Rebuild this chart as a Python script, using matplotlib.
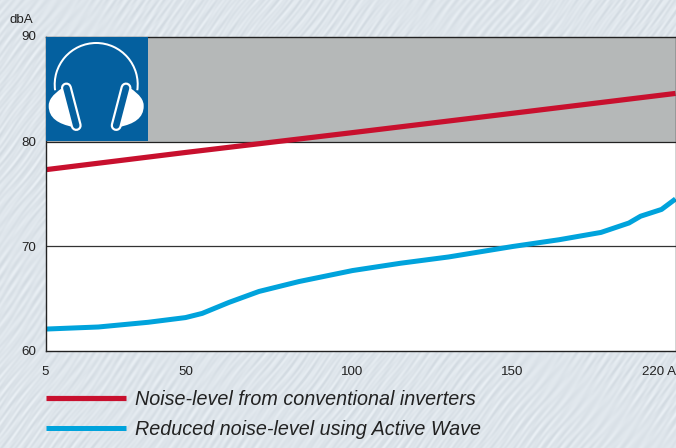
import numpy as np
import matplotlib
matplotlib.use("Agg")
import matplotlib.pyplot as plt
from matplotlib.patches import Arc, PathPatch
from matplotlib.path import Path

plt.rcParams['font.family'] = ['Liberation Sans', 'DejaVu Sans']

# Current (A) against noise level (dBA)
conventional_amps = [5, 50, 100, 150, 220]
conventional_dba = [77.3, 78.95, 80.85, 82.7, 84.6]
active_amps = [5, 22, 38, 50, 55, 63, 72, 84, 100, 115, 130, 150, 170, 188,
               200, 205, 214, 220]
active_dba = [62.05, 62.25, 62.7, 63.15, 63.55, 64.6, 65.65, 66.6, 67.65,
              68.35, 68.95, 69.95, 70.6, 71.3, 72.2, 72.85, 73.5, 74.5]
x_ticks = [5, 50, 100, 150, 220]
x_labels = ['5', '50', '100', '150', '220 A']
y_ticks = [60, 70, 80, 90]
series_names = ['Noise-level from conventional inverters',
                'Reduced noise-level using Active Wave']

W, H = 676, 448
fig = plt.figure(figsize=(W / 100, H / 100), dpi=100)


def px(v):
    return v * 0.72


# Brushed paper backdrop: diagonal streaks built from layered sine waves
yy, xx = np.mgrid[0:H, 0:W]
u = xx * 0.80 + yy * 0.60
v = -xx * 0.60 + yy * 0.80
streaks = (np.sin(u * 1.05 + 2.2 * np.sin(v * 0.043)) * np.sin(v * 0.031 + 1.0)
           + 0.7 * np.sin(u * 0.63 + 3.0 * np.sin(v * 0.019 + 2.0)) * np.sin(v * 0.067)
           + 0.5 * np.sin(u * 1.71 + 1.5 * np.sin(v * 0.087 + 0.5)) * np.sin(v * 0.013 + 0.4))
streaks = np.clip(streaks / 1.6, -1, 1)
base = np.array([222, 229, 235], dtype=float)
paper = base[None, None, :] + streaks[..., None] * np.array([11, 10, 9])
bg = fig.add_axes([0, 0, 1, 1], zorder=0)
bg.imshow(paper.astype(np.uint8), aspect='auto', interpolation='bilinear')
bg.set_axis_off()

# Main plot
left, right, top, bottom = 45.5, 675.5, 37.0, 350.5
ax = fig.add_axes([left / W, 1 - bottom / H, (right - left) / W, (bottom - top) / H],
                  zorder=1)
tick_fracs = [0.0, 0.2222, 0.4873, 0.7413, 1.0]
ax.set_xscale('function', functions=(lambda a: np.interp(a, x_ticks, tick_fracs),
                                     lambda f: np.interp(f, tick_fracs, x_ticks)))
ax.set_xlim(5, 220)
ax.set_ylim(60, 90)
ax.set_facecolor('white')
ax.axhspan(80, 90, color='#b5b8b8', lw=0, zorder=1)
ax.axhline(80, color='#222222', lw=0.9, zorder=2)
ax.axhline(70, color='#333333', lw=0.9, zorder=2)
ax.plot(conventional_amps, conventional_dba, color='#c8102e', lw=px(5.2),
        zorder=3, label=series_names[0], solid_capstyle='butt')
ax.plot(active_amps, active_dba, color='#00a3dc', lw=px(5.0),
        zorder=3, label=series_names[1], solid_capstyle='butt')

for s in ax.spines.values():
    s.set_color('#222222')
    s.set_linewidth(1.0)
    s.set_zorder(5)

ax.set_xticks(x_ticks)
ax.set_xticklabels(x_labels)
ax.set_yticks(y_ticks)
ax.minorticks_off()
ax.tick_params(axis='both', length=0, labelsize=9.6, labelcolor='#222222')
ax.tick_params(axis='x', pad=11)
ax.tick_params(axis='y', pad=7)
for lab, ha in zip(ax.get_xticklabels(), ['center'] * 4 + ['right']):
    lab.set_ha(ha)
ax.get_xticklabels()[4].set_x(220)
ax.get_yticklabels()[3].set_va('center')
fig.text(9.5 / W, 1 - 20 / H, 'dbA', fontsize=9.6, color='#222222', va='center', ha='left')

leg = ax.legend(loc='upper left', bbox_to_anchor=(0, -0.125), frameon=False,
                borderaxespad=0, borderpad=0, handlelength=4.1, handletextpad=0.42,
                labelspacing=0.55, labelcolor='#222222',
                prop={'style': 'italic', 'size': 14.2})

# Hearing-protection badge in the top-left corner of the band
icon = fig.add_axes([left / W, 1 - 141 / H, (148 - left) / W, (141 - top) / H], zorder=2)
icon.set_xlim(left, 148)
icon.set_ylim(141, top)
icon.set_facecolor('#04609f')
icon.set_xticks([])
icon.set_yticks([])
for s in icon.spines.values():
    s.set_visible(False)
cx, cy, r = 96.2, 84.5, 41.5
icon.add_patch(Arc((cx, cy), 2 * r, 2 * r, theta1=172, theta2=368, color='white', lw=px(2.0)))
for sign in (-1, 1):
    mx = lambda d: cx + sign * d
    cup = Path([(mx(34), 88), (mx(44), 95), (mx(47.5), 100), (mx(47.5), 106),
                (mx(47.5), 118), (mx(38), 124), (mx(23), 127), (mx(34), 88)],
               [Path.MOVETO, Path.CURVE4, Path.CURVE4, Path.CURVE4,
                Path.CURVE4, Path.CURVE4, Path.CURVE4, Path.CLOSEPOLY])
    icon.add_patch(PathPatch(cup, fc='white', ec='none'))
    xs = [mx(29.8), mx(20)]
    ys = [88, 125.5]
    icon.plot(xs, ys, color='white', lw=px(11), solid_capstyle='round')
    icon.plot(xs, ys, color='#04609f', lw=px(6.6), solid_capstyle='round')

fig.savefig('out.png', dpi=100)
